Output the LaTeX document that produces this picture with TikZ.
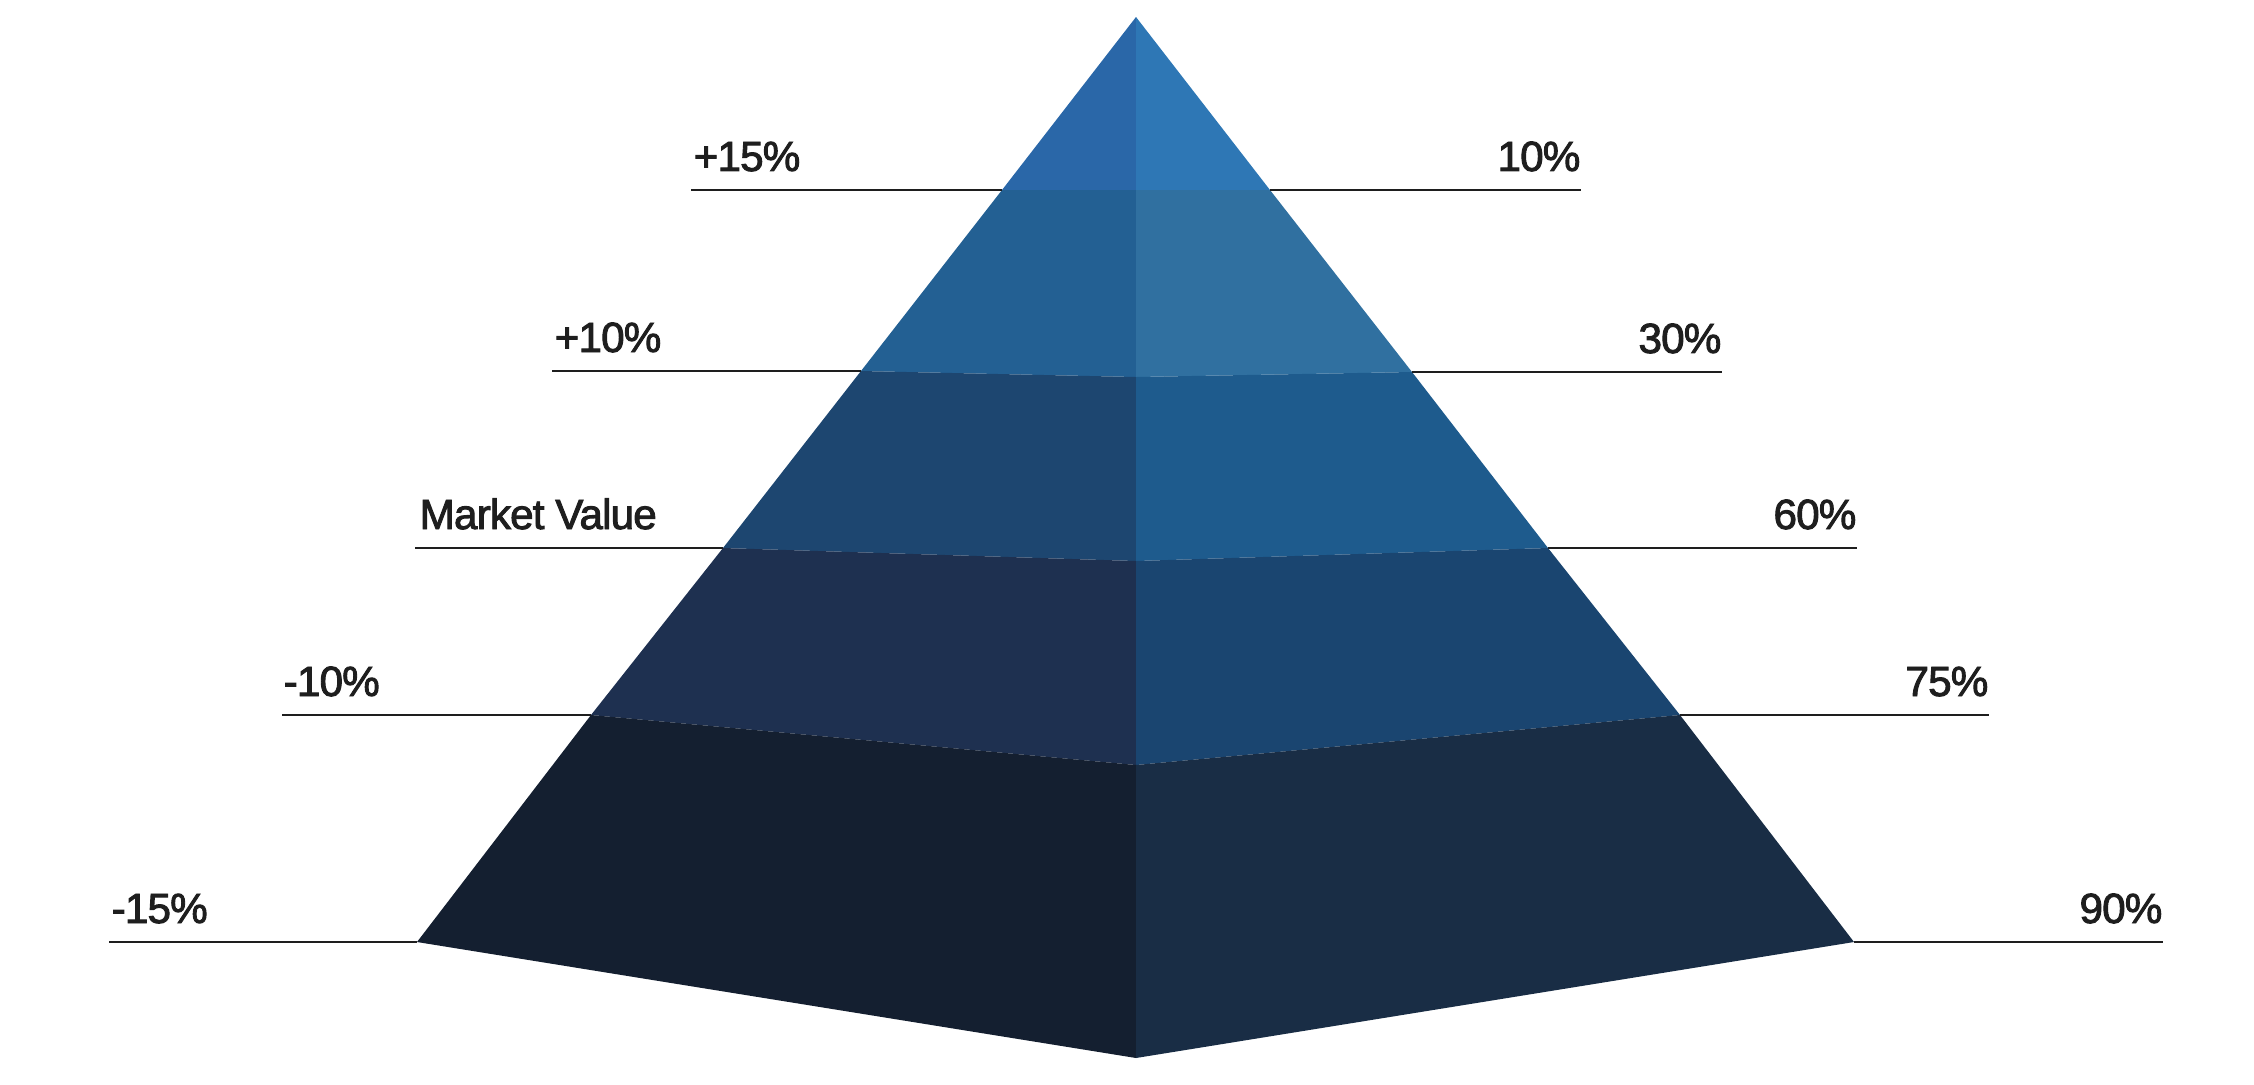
\documentclass[tikz,border=0pt]{standalone}
\usepackage{fontspec}
\setmainfont{Liberation Sans}
\newfontfamily\lblfont[FakeBold=2.2, LetterSpace=-2]{Liberation Sans}
\definecolor{textgray}{HTML}{1E1E1E}
\definecolor{topL}{HTML}{2A67A8}
\definecolor{topR}{HTML}{2E77B5}
\definecolor{secL}{HTML}{236093}
\definecolor{secR}{HTML}{3070A0}
\definecolor{midL}{HTML}{1D4670}
\definecolor{midR}{HTML}{1E5B8D}
\definecolor{lowL}{HTML}{1E3050}
\definecolor{lowR}{HTML}{1A4570}
\definecolor{baseL}{HTML}{141F30}
\definecolor{baseR}{HTML}{192D45}
\begin{document}
\begin{tikzpicture}[x=0.01cm, y=-0.01cm,
    lbl/.style={font=\lblfont\fontsize{12}{14}\selectfont, text=textgray, inner sep=0pt},
    rule/.style={draw=textgray, line width=0.7pt}]
    \useasboundingbox (0,0) rectangle (2254,1084);

    \coordinate (apex) at (1136,17);
    \coordinate (l1) at (1002,190); \coordinate (m1) at (1136,190); \coordinate (r1) at (1270,190);
    \coordinate (l2) at (861,371); \coordinate (m2) at (1136,377); \coordinate (r2) at (1412,372);
    \coordinate (l3) at (723,548); \coordinate (m3) at (1136,561); \coordinate (r3) at (1548,548);
    \coordinate (l4) at (591,715); \coordinate (m4) at (1136,765); \coordinate (r4) at (1680,715);
    \coordinate (l5) at (417,942); \coordinate (m5) at (1136,1058); \coordinate (r5) at (1854,942);

    \fill[topL] (apex) -- (l1) -- (m1) -- cycle;
    \fill[topR] (apex) -- (r1) -- (m1) -- cycle;
    \fill[secL] (l1) -- (l2) -- (m2) -- (m1) -- cycle;
    \fill[secR] (r1) -- (r2) -- (m2) -- (m1) -- cycle;
    \fill[midL] (l2) -- (l3) -- (m3) -- (m2) -- cycle;
    \fill[midR] (r2) -- (r3) -- (m3) -- (m2) -- cycle;
    \fill[lowL] (l3) -- (l4) -- (m4) -- (m3) -- cycle;
    \fill[lowR] (r3) -- (r4) -- (m4) -- (m3) -- cycle;
    \fill[baseL] (l4) -- (l5) -- (m5) -- (m4) -- cycle;
    \fill[baseR] (r4) -- (r5) -- (m5) -- (m4) -- cycle;

    \coordinate (e1) at (691,190); \coordinate (f1) at (1581,190);
    \coordinate (e2) at (552,371); \coordinate (f2) at (1722,372);
    \coordinate (e3) at (415,548); \coordinate (f3) at (1857,548);
    \coordinate (e4) at (282,715); \coordinate (f4) at (1989,715);
    \coordinate (e5) at (109,942); \coordinate (f5) at (2163,942);

    \node (plus15) [lbl, anchor=base west] at ([xshift=0.02cm, yshift=0.19cm]e1) {+15\%};
    \node (plus10) [lbl, anchor=base west] at ([xshift=0.02cm, yshift=0.19cm]e2) {+10\%};
    \node (market) [lbl, anchor=base west] at ([xshift=0.04cm, yshift=0.19cm]e3) {Market Value};
    \node (minus10) [lbl, anchor=base west] at ([xshift=0.01cm, yshift=0.19cm]e4) {-10\%};
    \node (minus15) [lbl, anchor=base west] at ([xshift=0.02cm, yshift=0.19cm]e5) {-15\%};

    \node (share10) [lbl, anchor=base east] at ([yshift=0.19cm]f1) {10\%};
    \node (share30) [lbl, anchor=base east] at ([yshift=0.19cm]f2) {30\%};
    \node (share60) [lbl, anchor=base east] at ([yshift=0.19cm]f3) {60\%};
    \node (share75) [lbl, anchor=base east] at ([yshift=0.19cm]f4) {75\%};
    \node (share90) [lbl, anchor=base east] at ([yshift=0.19cm]f5) {90\%};

    \draw[rule] (e1) -- (l1);
    \draw[rule] (e2) -- (l2);
    \draw[rule] (e3) -- (l3);
    \draw[rule] (e4) -- (l4);
    \draw[rule] (e5) -- (l5);
    \draw[rule] (r1) -- (f1);
    \draw[rule] (r2) -- (f2);
    \draw[rule] (r3) -- (f3);
    \draw[rule] (r4) -- (f4);
    \draw[rule] (r5) -- (f5);
\end{tikzpicture}
\end{document}
